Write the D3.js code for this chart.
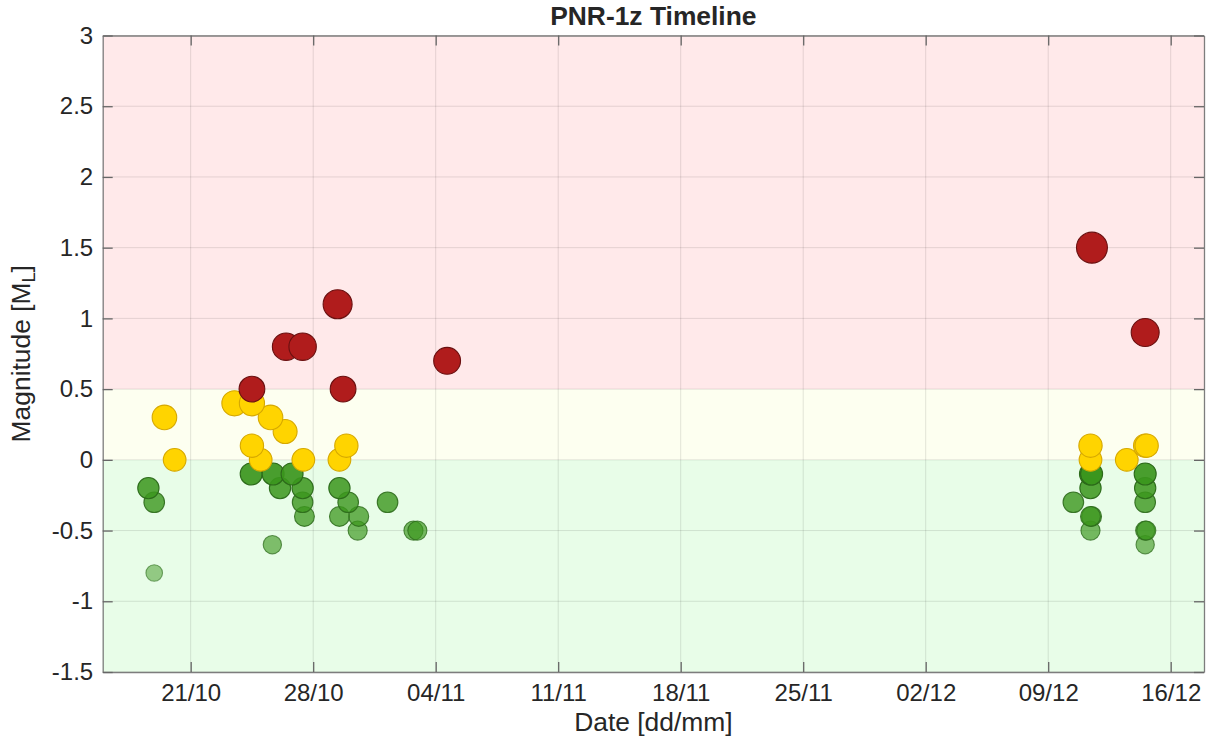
<!DOCTYPE html>
<html>
<head>
<meta charset="utf-8">
<script src="https://cdn.jsdelivr.net/npm/d3@7"></script>
<style>
  html, body { margin: 0; padding: 0; background: #ffffff; }
  svg { display: block; }
  text { font-family: "Liberation Sans", Arial, Helvetica, sans-serif; fill: #262626; }
</style>
</head>
<body>
<svg id="chart" width="1208" height="742"></svg>
<script>
// ---- data ----
const eventTimes = [
  "2023-10-18 14:00", "2023-10-18 22:00", "2023-10-18 22:00", "2023-10-19 12:00", "2023-10-20 02:00",
  "2023-10-23 12:00", "2023-10-24 12:00", "2023-10-24 12:00", "2023-10-24 12:00", "2023-10-24 11:00",
  "2023-10-25 00:00", "2023-10-25 13:30", "2023-10-25 16:00", "2023-10-25 17:00", "2023-10-26 02:30",
  "2023-10-26 09:30", "2023-10-26 10:50", "2023-10-26 19:00", "2023-10-27 09:30", "2023-10-27 09:30",
  "2023-10-27 09:30", "2023-10-27 12:00", "2023-10-27 10:30", "2023-10-29 09:30", "2023-10-29 12:00",
  "2023-10-29 12:00", "2023-10-29 12:00", "2023-10-29 17:00", "2023-10-29 21:30", "2023-10-30 00:00",
  "2023-10-30 14:30", "2023-10-30 13:00", "2023-11-01 06:00", "2023-11-02 17:30", "2023-11-02 22:50",
  "2023-11-04 15:40",
  "2023-12-10 10:30", "2023-12-11 10:00", "2023-12-11 10:00", "2023-12-11 10:00", "2023-12-11 11:30",
  "2023-12-11 10:00", "2023-12-11 11:30", "2023-12-11 10:00", "2023-12-11 10:00", "2023-12-11 12:00",
  "2023-12-13 11:45",
  "2023-12-14 13:00", "2023-12-14 15:00", "2023-12-14 13:00", "2023-12-14 13:00", "2023-12-14 13:00",
  "2023-12-14 13:00", "2023-12-14 13:00", "2023-12-14 14:30", "2023-12-14 13:00"
];
const eventMagnitudes = [
  -0.2, -0.3, -0.8, 0.3, 0.0,
  0.4, 0.4, 0.5, 0.1, -0.1,
  0.0, 0.3, -0.6, -0.1, -0.2,
  0.2, 0.8, -0.1, 0.8, -0.2,
  -0.3, -0.4, 0.0, 1.1, 0.0,
  -0.2, -0.4, 0.5, 0.1, -0.3,
  -0.4, -0.5, -0.3, -0.5, -0.5,
  0.7,
  -0.3, 0.1, 0.0, -0.1, -0.1,
  -0.2, -0.4, -0.4, -0.5, 1.5,
  0.0,
  0.1, 0.1, 0.9, -0.1, -0.2,
  -0.3, -0.5, -0.5, -0.6
];
const yTickValues = [-1.5, -1, -0.5, 0, 0.5, 1, 1.5, 2, 2.5, 3];
const xTickDates = ["2023-10-21", "2023-10-28", "2023-11-04", "2023-11-11", "2023-11-18",
                    "2023-11-25", "2023-12-02", "2023-12-09", "2023-12-16"];
const bandLimits = [[-1.5, 0], [0, 0.5], [0.5, 3]];
const xDomain = ["2023-10-15 23:20", "2023-12-17 21:40"];
const titleText = "PNR-1z Timeline";

// ---- layout ----
const svg = d3.select("#chart");
const plot = { left: 102.7, right: 1204, top: 35.5, bottom: 672 };
const parseT = d3.timeParse("%Y-%m-%d %H:%M");
const parseD = d3.timeParse("%Y-%m-%d");

const x = d3.scaleTime().domain(xDomain.map(parseT)).range([plot.left, plot.right]);
const y = d3.scaleLinear().domain([-1.5, 3]).range([plot.bottom, plot.top]);
const area = d3.scaleLinear().domain([-0.8, 1.5]).range([69, 240]);
const greenAlpha = d3.scaleLinear().domain([-0.8, -0.1]).range([0.5, 0.92]).clamp(true);
const bandFill = ["#e8fde8", "#fdfff0", "#ffe9ea"];

const events = eventTimes.map((t, i) => ({ t: parseT(t), m: eventMagnitudes[i] }))
  .sort((a, b) => a.m - b.m);

// background bands
svg.append("g").selectAll("rect").data(bandLimits).join("rect")
  .attr("x", plot.left).attr("width", plot.right - plot.left)
  .attr("y", d => y(d[1])).attr("height", d => y(d[0]) - y(d[1]))
  .attr("fill", (d, i) => bandFill[i]);

// grid
const xTicks = xTickDates.map(parseD);
const grid = svg.append("g").attr("stroke", "rgba(0,0,0,0.11)").attr("stroke-width", 1);
grid.selectAll("line.gx").data(xTicks).join("line").attr("class", "gx")
  .attr("x1", d => x(d)).attr("x2", d => x(d)).attr("y1", plot.top).attr("y2", plot.bottom);
grid.selectAll("line.gy").data(yTickValues).join("line").attr("class", "gy")
  .attr("y1", d => y(d)).attr("y2", d => y(d)).attr("x1", plot.left).attr("x2", plot.right);

// points
svg.append("g").selectAll("circle").data(events).join("circle")
  .attr("cx", d => x(d.t)).attr("cy", d => y(d.m))
  .attr("r", d => Math.sqrt(area(d.m)))
  .attr("fill", d => d.m >= 0.5 ? "#b01c1c" : d.m >= 0 ? "#ffd400" : "#3b961d")
  .attr("fill-opacity", d => d.m < 0 ? greenAlpha(d.m) : 1)
  .attr("stroke", d => d.m >= 0.5 ? "#6a1010" : d.m >= 0 ? "#d6a800" : "#2c6a1a")
  .attr("stroke-opacity", d => d.m < 0 ? Math.min(1, greenAlpha(d.m) + 0.1) : 1)
  .attr("stroke-width", 1.1);

// axes (box with inward ticks)
const tickLen = 10;
const axisColor = "#7d7d7d";
const fmt = d3.timeFormat("%d/%m");
const gBottom = svg.append("g").attr("transform", `translate(0,${plot.bottom})`)
  .call(d3.axisBottom(x).tickValues(xTicks).tickFormat(fmt).tickSizeInner(-tickLen).tickSizeOuter(0).tickPadding(20));
const gTop = svg.append("g").attr("transform", `translate(0,${plot.top})`)
  .call(d3.axisTop(x).tickValues(xTicks).tickFormat("").tickSizeInner(-tickLen).tickSizeOuter(0));
const gLeft = svg.append("g").attr("transform", `translate(${plot.left},0)`)
  .call(d3.axisLeft(y).tickValues(yTickValues).tickFormat(d => String(d)).tickSizeInner(-tickLen).tickSizeOuter(0).tickPadding(20));
const gRight = svg.append("g").attr("transform", `translate(${plot.right},0)`)
  .call(d3.axisRight(y).tickValues(yTickValues).tickFormat("").tickSizeInner(-tickLen).tickSizeOuter(0));
[gBottom, gTop, gLeft, gRight].forEach(g => {
  g.select(".domain").attr("stroke", axisColor).attr("stroke-width", 1.3);
  g.selectAll(".tick line").attr("stroke", "#666").attr("stroke-width", 1.3);
  g.selectAll(".tick text").attr("fill", "#262626").attr("font-size", 24)
    .attr("font-family", '"Liberation Sans", Arial, Helvetica, sans-serif');
});
gLeft.selectAll(".tick text").attr("x", -9.5);
gBottom.selectAll(".tick text").attr("y", 12);

// titles
svg.append("text").attr("x", (plot.left + plot.right) / 2).attr("y", 25)
  .attr("text-anchor", "middle").attr("font-weight", "bold").attr("font-size", 26.4)
  .attr("fill", "#000").text(titleText);
svg.append("text").attr("x", (plot.left + plot.right) / 2).attr("y", 731)
  .attr("text-anchor", "middle").attr("font-size", 26.4).text("Date [dd/mm]");
const yl = svg.append("text").attr("transform", `translate(30,${(plot.top + plot.bottom) / 2}) rotate(-90)`)
  .attr("text-anchor", "middle").attr("font-size", 26.4);
yl.append("tspan").text("Magnitude [M");
yl.append("tspan").attr("font-size", 18).attr("dy", 5).text("L");
yl.append("tspan").attr("dy", -5).text("]");
</script>
</body>
</html>
